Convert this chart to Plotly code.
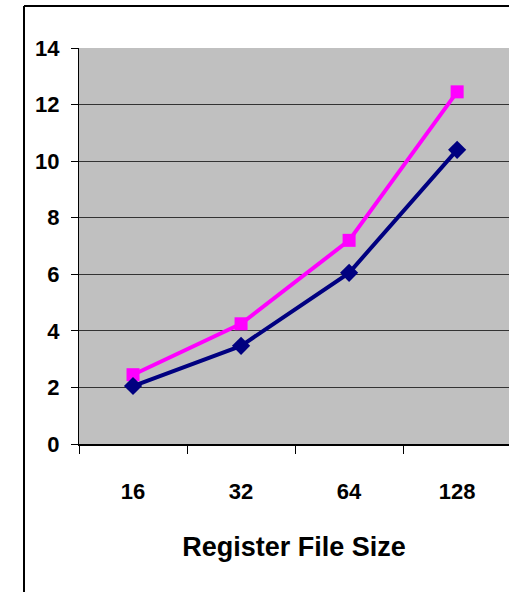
import plotly.graph_objects as go

# Register file size categories and the two measured series
sizes = ["16", "32", "64", "128"]
series_navy = [2.05, 3.47, 6.05, 10.4]
series_magenta = [2.45, 4.25, 7.2, 12.45]
y_ticks = [0, 2, 4, 6, 8, 10, 12, 14]

FONT = "Liberation Sans Narrow, Arial Narrow, Liberation Sans, Arial, sans-serif"

fig = go.Figure()
fig.add_trace(go.Scatter(
    x=sizes, y=series_magenta, mode="lines+markers",
    line=dict(color="#FF00FF", width=4),
    marker=dict(symbol="square", size=13, color="#FF00FF"),
    showlegend=False,
))
fig.add_trace(go.Scatter(
    x=sizes, y=series_navy, mode="lines+markers",
    line=dict(color="#000080", width=4),
    marker=dict(symbol="diamond", size=14, color="#000080"),
    showlegend=False,
))

W, H = 509, 592
L, R, T, B = 79, 0, 48, 148
pw, ph = W - L - R, H - T - B

def px_x(px):
    return (px - L) / pw

def px_y(py):
    return (H - B - py) / ph

# outer chart frame (left and top edges)
frame = dict(color="black", width=2)
fig.add_shape(type="line", xref="paper", yref="paper",
              x0=px_x(24), x1=px_x(24), y0=px_y(6), y1=px_y(600), line=frame)
fig.add_shape(type="line", xref="paper", yref="paper",
              x0=px_x(24), x1=px_x(520), y0=px_y(6), y1=px_y(6), line=frame)

fig.update_layout(
    width=W, height=H,
    margin=dict(l=L, r=R, t=T, b=B),
    paper_bgcolor="white",
    plot_bgcolor="#C0C0C0",
    font=dict(family=FONT, color="black"),
)
fig.update_xaxes(
    type="category",
    range=[-0.5, 3.48],
    showline=True, linecolor="black", linewidth=1.5,
    ticks="outside", tickson="boundaries", ticklen=8, tickcolor="black",
    tickfont=dict(size=22, family=FONT, weight="bold"),
    ticklabelstandoff=27,
    showgrid=False, zeroline=False,
    title=dict(text="Register File Size",
               font=dict(size=27, family=FONT, weight="bold"),
               standoff=34),
)
fig.update_yaxes(
    range=[0, 14],
    tickvals=y_ticks,
    showline=True, linecolor="black", linewidth=1,
    ticks="outside", ticklen=7, tickcolor="black",
    tickfont=dict(size=22, family=FONT, weight="bold"),
    ticklabelstandoff=7,
    showgrid=True, gridcolor="#333333", gridwidth=1,
    zeroline=False,
)

fig.write_html("out.html")
